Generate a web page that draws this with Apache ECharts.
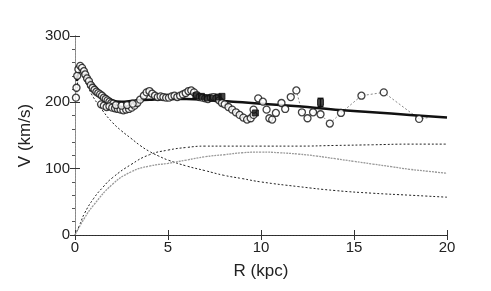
<!DOCTYPE html>
<html><head><meta charset="utf-8">
<script src="https://cdn.jsdelivr.net/npm/echarts@6/dist/echarts.min.js"></script>
<style>html,body{margin:0;padding:0;background:#fff}#c{width:491px;height:291px}</style>
</head><body><div id="c"></div>
<script>
// Observed rotation curve (open circles): [R kpc, V km/s]
var obsOpen = [[0.05,207],[0.08,222],[0.12,240],[0.18,250],[0.28,255],[0.38,252],[0.48,247],[0.55,242],[0.65,236],[0.75,232],[0.85,226],[0.95,222],[1.05,219],[1.15,216],[1.25,214],[1.35,212],[1.45,210],[1.55,207],[1.65,205],[1.75,203],[1.85,201],[1.95,199],[2.05,198],[1.4,197],[1.55,195],[1.7,193],[1.85,194],[2.0,192],[2.15,191],[2.3,190],[2.45,189],[2.6,188],[2.75,189],[2.9,190],[3.05,192],[3.2,195],[3.35,199],[2.2,196],[2.5,195],[2.8,196],[3.1,198],[3.5,204],[3.7,210],[3.85,215],[4.0,217],[4.15,213],[4.3,210],[4.45,208],[4.6,209],[4.75,208],[4.9,207],[5.05,207],[5.2,209],[5.35,210],[5.5,208],[5.65,210],[5.8,212],[5.95,214],[6.1,217],[6.25,218],[6.4,215],[6.55,211],[6.7,208],[6.85,207],[7.0,206],[7.15,205],[7.3,207],[7.45,208],[7.6,206],[7.75,203],[7.9,199],[8.05,197],[8.25,193],[8.45,189],[8.65,185],[8.85,181],[9.05,177],[9.25,174],[9.45,176],[9.6,181],[9.6,189],[9.85,206],[10.1,201],[10.3,189],[10.45,176],[10.6,174],[10.8,184],[11.1,199],[11.3,190],[11.6,208],[11.9,218],[12.2,185],[12.5,176],[12.8,185],[13.2,182],[13.7,168],[14.3,184],[15.4,210],[16.6,215],[18.5,175]];
// Filled squares
var obsFilled = [[6.5,210],[6.8,209],[7.1,207],[7.4,206],[7.7,208],[7.9,209],[9.7,184],[13.2,200]];
// Error bar for one filled point: [R, low, high]
var errBars = [[13.2,194,206]];
// Outer points joined by a dotted line
var outerLink = [[11.6,208],[11.9,218],[12.2,185],[12.5,176],[12.8,185],[13.2,182],[13.7,168],[14.3,184],[15.4,210],[16.6,215],[18.5,175],[19.0,177]];
// Model components
var totalFit = [[0.1,232],[0.3,248],[0.5,245],[1,226],[1.5,211],[2,203],[2.5,201],[3,202],[4,204],[5,205],[6,205],[7,204],[8,202],[9,200],[10,198],[12,194],[14,189],[16,185],[18,181],[20,177]];
var bulge = [[0.1,215],[0.3,248],[0.5,234],[0.75,220],[1,207],[1.5,187],[2,170],[2.5,157],[3,146],[3.5,135],[4,126],[4.5,119],[5,113],[6,104],[7,97],[8,90],[9,85],[10,80],[12,73],[14,67],[16,63],[18,60],[20,57]];
var halo = [[0,0],[0.25,15],[0.5,32],[1,55],[1.5,72],[2,86],[3,106],[4,121],[5,128],[6,132],[7,134],[8,134],[10,134],[12,134],[14,135],[16,136],[18,137],[20,137]];
var disk = [[0,0],[0.5,25],[1,45],[2,76],[3,95],[4,104],[5,108],[6,113],[7,118],[8,121],[9,124],[10,125],[11,124],[12,122],[13,119],[14,115],[15,111],[16,107],[17,103],[18,99],[19,96],[20,93]];
var xTicks = [0,5,10,15,20];
var yTicks = [0,100,200,300];

var chart = echarts.init(document.getElementById('c'), null, {renderer:'canvas'});
var font = 'Liberation Sans, Arial, sans-serif';
chart.setOption({
  animation:false,
  backgroundColor:'#fff',
  grid:{left:75, right:44, top:36, bottom:56, containLabel:false},
  xAxis:[
    {type:'value', min:xTicks[0], max:xTicks[xTicks.length-1], interval:5, position:'bottom',
     name:'R (kpc)', nameLocation:'middle', nameGap:28, nameTextStyle:{fontFamily:font, fontSize:17, color:'#222'},
     axisLine:{show:true, lineStyle:{color:'#222', width:1}}, axisTick:{show:true, inside:true, length:5, lineStyle:{color:'#333'}},
     axisLabel:{fontFamily:font, fontSize:15, color:'#222', margin:5}, splitLine:{show:false}},
    {type:'value', min:0, max:20, interval:5, position:'top',
     axisLine:{show:true, lineStyle:{color:'#333', width:1, type:[2,1]}}, axisTick:{show:true, inside:true, length:5, lineStyle:{color:'#333'}},
     axisLabel:{show:false}, splitLine:{show:false}}
  ],
  yAxis:[
    {type:'value', min:yTicks[0], max:yTicks[yTicks.length-1], interval:100, position:'left',
     name:'V (km/s)', nameLocation:'middle', nameGap:41, nameTextStyle:{fontFamily:font, fontSize:17, color:'#222'},
     axisLine:{show:true, lineStyle:{color:'#777', width:1, type:[2,1]}}, axisTick:{show:true, inside:true, length:5, lineStyle:{color:'#333'}},
     axisLabel:{fontFamily:font, fontSize:15, color:'#222', margin:5}, splitLine:{show:false}},
    {type:'value', min:0, max:300, interval:100, position:'right',
     axisLine:{show:true, lineStyle:{color:'#888', width:1, type:[2,1]}}, axisTick:{show:true, inside:true, length:5, lineStyle:{color:'#333'}},
     minorTick:{show:true, splitNumber:5, length:3, lineStyle:{color:'#555'}},
     axisLabel:{show:false}, splitLine:{show:false}}
  ],
  series:[
    {type:'line', data:bulge, smooth:true, showSymbol:false, lineStyle:{color:'#222', width:1, type:[2,2]}, z:2},
    {type:'line', data:halo, smooth:true, showSymbol:false, lineStyle:{color:'#222', width:1, type:[2,2]}, z:2},
    {type:'line', data:disk, smooth:true, showSymbol:false, lineStyle:{color:'#999', width:1.3, type:[2,1]}, z:2},
    {type:'line', data:outerLink, showSymbol:false, lineStyle:{color:'#888', width:1, type:[2,2]}, z:3},
    {type:'line', data:totalFit, smooth:true, showSymbol:false, lineStyle:{color:'#111', width:2.5}, z:4},
    {type:'scatter', data:obsOpen, symbol:'circle', symbolSize:7, itemStyle:{color:'#fff', borderColor:'#111', borderWidth:1.3}, z:5},
    {type:'scatter', data:obsFilled, symbol:'rect', symbolSize:6, itemStyle:{color:'#111', borderColor:'#111', borderWidth:1}, z:6},
    {type:'custom', data:errBars, z:6, renderItem:function(params, api){
      var lo = api.coord([api.value(0), api.value(1)]);
      var hi = api.coord([api.value(0), api.value(2)]);
      return {type:'group', children:[
        {type:'line', shape:{x1:lo[0], y1:lo[1], x2:hi[0], y2:hi[1]}, style:{stroke:'#111', lineWidth:1}},
        {type:'line', shape:{x1:hi[0]-3, y1:hi[1], x2:hi[0]+3, y2:hi[1]}, style:{stroke:'#111', lineWidth:1.5}},
        {type:'line', shape:{x1:lo[0]-3, y1:lo[1], x2:lo[0]+3, y2:lo[1]}, style:{stroke:'#111', lineWidth:1.5}}
      ]};
    }}
  ]
});
</script></body></html>
